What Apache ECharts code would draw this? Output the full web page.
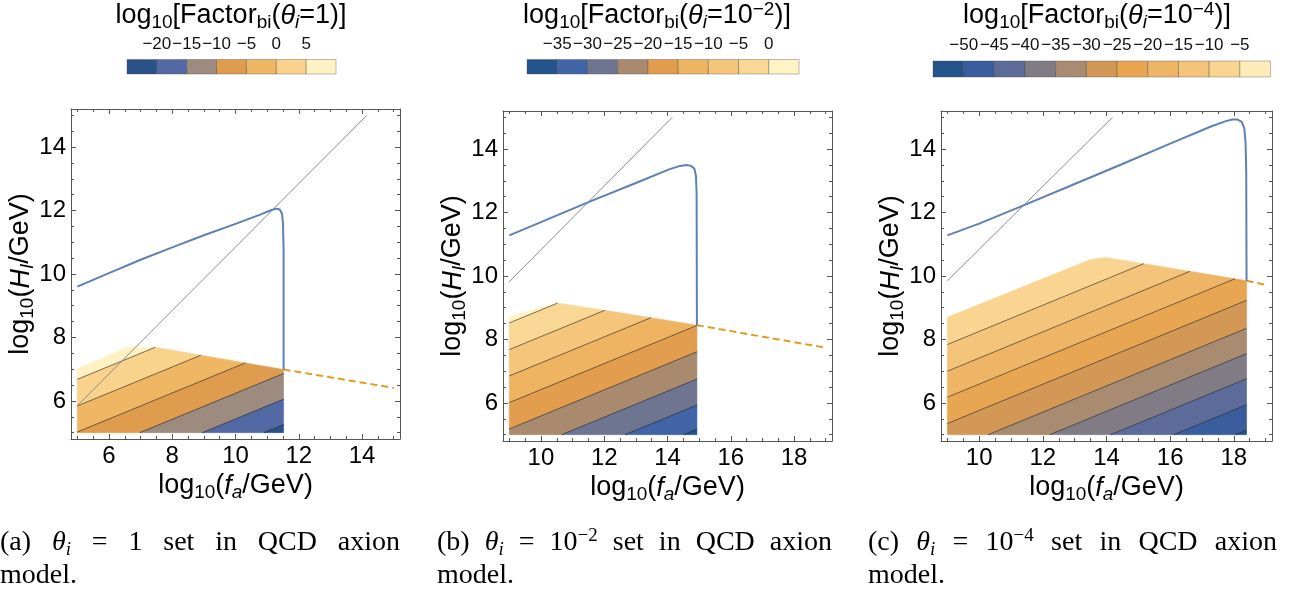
<!DOCTYPE html>
<html>
<head>
<meta charset="utf-8">
<script src="https://cdn.jsdelivr.net/npm/echarts@6/dist/echarts.min.js"></script>
<style>
  html, body { margin: 0; padding: 0; background: #fff; }
  #chart { width: 1295px; height: 596px; }
</style>
</head>
<body>
<div id="chart"></div>
<script>
// ---------- values ----------
// panel (a)  theta_i = 1
const aRegion = [[5, 5], [5, 7.02], [6.56, 7.68], [7.4, 7.7], [11.52, 6.99], [11.52, 5]];
const aLevels = [5, 0, -5, -10, -15, -20];                 // contour levels = colour bar ticks
const aLevelY = [6.68, 5.84, 5.02, 4.19, 3.38, 2.58];       // height of each contour at x = 5
const aSlope = 0.41;
const aColors = ['#2b5189', '#5269a5', '#9c8b7e', '#e09c4e', '#efb764', '#f9d28c', '#fef2c4'];
const aBlue = [[5, 9.6], [6, 10.03], [7, 10.45], [8, 10.84], [9, 11.22], [10, 11.58], [10.8, 11.88],
  [11.1, 12.0], [11.28, 12.06], [11.4, 12.03], [11.47, 11.9], [11.5, 11.6], [11.52, 10.8], [11.52, 6.99]];
const aGrey = [[5, 5.85], [14.15, 15]];
const aDash = [[11.52, 6.99], [15, 6.41]];
const aXTicks = [6, 8, 10, 12, 14];

// panel (b)  theta_i = 1e-2
const bRegion = [[9, 5], [9, 8.72], [10.5, 9.15], [12, 8.92], [14.93, 8.45], [14.93, 5]];
const bLevels = [0, -5, -10, -15, -20, -25, -30, -35];
const bLevelY = [8.52, 7.68, 6.85, 6.01, 5.18, 4.32, 3.5, 2.74];   // at x = 9
const bSlope = 0.41;
const bColors = ['#25538b', '#4064a6', '#6f7591', '#a98a6f', '#e39d4e', '#eeb462', '#f4c57a', '#f9d896', '#fef3c4'];
const bBlue = [[9, 11.28], [10, 11.7], [11.5, 12.33], [13, 12.93], [14.05, 13.36], [14.4, 13.47],
  [14.6, 13.5], [14.75, 13.47], [14.85, 13.38], [14.9, 13.15], [14.92, 12.6], [14.93, 8.45]];
const bGrey = [[9, 9.82], [14.15, 15]];
const bDash = [[14.93, 8.45], [19, 7.74]];
const bXTicks = [10, 12, 14, 16, 18];

// panel (c)  theta_i = 1e-4
const cRegion = [[9, 5], [9, 8.7], [13.5, 10.52], [13.96, 10.58], [14.5, 10.5], [18.4, 9.85], [18.4, 5]];
const cLevels = [-5, -10, -15, -20, -25, -30, -35, -40, -45, -50];
const cLevelY = [8.7, 7.84, 7.0, 6.18, 5.35, 4.47, 3.67, 2.88, 2.06, 1.26];   // at x = 9
const cSlope = 0.413;
const cColors = ['#24528a', '#3a5d9d', '#5c6b99', '#817b86', '#a88b70', '#d39855', '#e8a652',
  '#efb566', '#f4c47b', '#f9d591', '#fdecb9'];
const cBlue = [[9, 11.28], [10, 11.65], [11.45, 12.25], [13, 12.9], [14.5, 13.53], [16, 14.17],
  [17.3, 14.72], [17.75, 14.88], [17.95, 14.93], [18.12, 14.93], [18.25, 14.86], [18.33, 14.65],
  [18.37, 14.2], [18.39, 13.3], [18.4, 9.85]];
const cGrey = [[9, 9.85], [14.19, 15]];
const cDash = [[18.4, 9.85], [18.97, 9.73]];
const cXTicks = [10, 12, 14, 16, 18];

const yTicks = [6, 8, 10, 12, 14];

// ---------- helpers ----------
const SANS = 'Liberation Sans, Arial, sans-serif';
const SERIF = 'Liberation Serif, Times New Roman, serif';
const frameColor = '#555';

function minorTicks(from, to, major) {
  const out = [];
  for (let v = from; v <= to + 1e-9; v += 0.5) {
    if (major.indexOf(v) < 0) out.push(v);
  }
  return out;
}

// keep the part of a polygon above (sign 1) or below (sign -1) the line y = m x + b
function clipHalf(poly, m, b, sign) {
  const out = [];
  const f = p => (p[1] - (m * p[0] + b)) * sign;
  for (let i = 0; i < poly.length; i++) {
    const P = poly[i], Q = poly[(i + 1) % poly.length];
    const fp = f(P), fq = f(Q);
    if (fp >= 0) out.push(P);
    if ((fp >= 0) !== (fq >= 0)) {
      const t = fp / (fp - fq);
      out.push([P[0] + t * (Q[0] - P[0]), P[1] + t * (Q[1] - P[1])]);
    }
  }
  return out;
}

function lineInRegion(poly, m, b) {
  const pts = [];
  for (let i = 0; i < poly.length; i++) {
    const P = poly[i], Q = poly[(i + 1) % poly.length];
    const fp = P[1] - (m * P[0] + b), fq = Q[1] - (m * Q[0] + b);
    if (fp === fq) continue;
    if ((fp >= 0) !== (fq >= 0) || fp === 0) {
      const t = fp / (fp - fq);
      if (t >= 0 && t <= 1) pts.push([P[0] + t * (Q[0] - P[0]), P[1] + t * (Q[1] - P[1])]);
    }
  }
  if (pts.length < 2) return null;
  pts.sort((u, v) => u[0] - v[0]);
  return [pts[0], pts[pts.length - 1]];
}

const nameRich = {
  n: { fontFamily: SANS, fontSize: 27, lineHeight: 32, color: '#000' },
  s: { fontFamily: SANS, fontSize: 19, lineHeight: 21, verticalAlign: 'bottom', color: '#000' },
  i: { fontFamily: SANS, fontSize: 27, lineHeight: 32, fontStyle: 'italic', color: '#000' },
  is: { fontFamily: SANS, fontSize: 19, lineHeight: 21, verticalAlign: 'bottom', fontStyle: 'italic', color: '#000' },
  p: { fontFamily: SANS, fontSize: 19, lineHeight: 17, verticalAlign: 'top', color: '#000' }
};

const panels = [
  { region: aRegion, levels: aLevels, levelY: aLevelY, slope: aSlope, x0: 5, colors: aColors,
    blue: aBlue, grey: aGrey, dash: aDash, xTicks: aXTicks, xMin: 4.8, xMax: 15.2, xFrom: 5, xTo: 15,
    grid: { left: 71, top: 109, width: 329, height: 330 },
    bar: { left: 127, top: 59.5, width: 209, height: 14.5 },
    title: '{n|log}{s|10}{n|[Factor}{s|bi}{n|(}{i|θ}{is|i}{n|=1)]}', titleX: 231 },
  { region: bRegion, levels: bLevels, levelY: bLevelY, slope: bSlope, x0: 9, colors: bColors,
    blue: bBlue, grey: bGrey, dash: bDash, xTicks: bXTicks, xMin: 8.8, xMax: 19.2, xFrom: 9, xTo: 19,
    grid: { left: 503, top: 111, width: 329, height: 330 },
    bar: { left: 527, top: 59.5, width: 272, height: 14.5 },
    title: '{n|log}{s|10}{n|[Factor}{s|bi}{n|(}{i|θ}{is|i}{n|=10}{p|−2}{n|)]}', titleX: 657 },
  { region: cRegion, levels: cLevels, levelY: cLevelY, slope: cSlope, x0: 9, colors: cColors,
    blue: cBlue, grey: cGrey, dash: cDash, xTicks: cXTicks, xMin: 8.8, xMax: 19.2, xFrom: 9, xTo: 19,
    grid: { left: 941, top: 111, width: 331, height: 330 },
    bar: { left: 933, top: 61, width: 337.5, height: 16 },
    title: '{n|log}{s|10}{n|[Factor}{s|bi}{n|(}{i|θ}{is|i}{n|=10}{p|−4}{n|)]}', titleX: 1097 }
];

const grid = [], xAxis = [], yAxis = [], series = [], graphic = [];

function valAxis(gi, pos, min, max, ticks, len, withLine, withLabel, extra) {
  return Object.assign({
    type: 'value', gridIndex: gi, position: pos, min: min, max: max,
    nameMoveOverlap: false,
    axisLine: { show: withLine, onZero: false, lineStyle: { color: frameColor, width: 1 } },
    axisTick: { show: true, inside: true, length: len, customValues: ticks,
      lineStyle: { color: frameColor, width: 1 } },
    axisLabel: withLabel ? { show: true, customValues: ticks, margin: 5, fontFamily: SANS,
      fontSize: 24, color: '#000', formatter: v => String(v) } : { show: false },
    splitLine: { show: false }
  }, extra || {});
}

panels.forEach((p, k) => {
  const gi = grid.length;
  grid.push(Object.assign({ outerBoundsMode: 'none', containLabel: false }, p.grid));
  const xMinor = minorTicks(p.xFrom, p.xTo, p.xTicks);
  const yMinor = minorTicks(5, 15, yTicks);
  const xi = xAxis.length, yi = yAxis.length;
  xAxis.push(valAxis(gi, 'bottom', p.xMin, p.xMax, p.xTicks, 5, true, true, {
    name: '{n|log}{s|10}{n|(}{i|f}{is|a}{n|/GeV)}', nameLocation: 'middle', nameGap: 31,
    nameTextStyle: { rich: nameRich }
  }));
  xAxis.push(valAxis(gi, 'bottom', p.xMin, p.xMax, xMinor, 3, false, false));
  xAxis.push(valAxis(gi, 'top', p.xMin, p.xMax, p.xTicks, 5, true, false));
  xAxis.push(valAxis(gi, 'top', p.xMin, p.xMax, xMinor, 3, false, false));
  yAxis.push(valAxis(gi, 'left', 4.8, 15.2, yTicks, 5, true, true, {
    name: '{n|log}{s|10}{n|(}{i|H}{is|I}{n|/GeV)}', nameLocation: 'middle', nameGap: 34, nameRotate: 90,
    nameTextStyle: { rich: nameRich }
  }));
  yAxis.push(valAxis(gi, 'left', 4.8, 15.2, yMinor, 3, false, false));
  yAxis.push(valAxis(gi, 'right', 4.8, 15.2, yTicks, 5, true, false));
  yAxis.push(valAxis(gi, 'right', 4.8, 15.2, yMinor, 3, false, false));

  const n = p.levels.length;
  const lineB = j => p.levelY[j] - p.slope * p.x0;
  const bands = [];
  for (let j = 0; j <= n; j++) bands.push([j, 0]);
  series.push({
    type: 'custom', xAxisIndex: xi, yAxisIndex: yi, silent: true, z: 1, data: bands,
    renderItem: (params, api) => {
      const j = api.value(0);
      let poly = p.region;
      if (j > 0) poly = clipHalf(poly, p.slope, lineB(j - 1), -1);
      if (j < n) poly = clipHalf(poly, p.slope, lineB(j), 1);
      if (poly.length < 3) return null;
      const col = p.colors[n - j];
      return { type: 'polygon', shape: { points: poly.map(q => api.coord(q)) },
        style: { fill: col, stroke: col, lineWidth: 0.6 } };
    }
  });
  series.push({
    type: 'custom', xAxisIndex: xi, yAxisIndex: yi, silent: true, z: 2,
    data: p.levels.map((lv, j) => [j, lv]),
    renderItem: (params, api) => {
      const seg = lineInRegion(p.region, p.slope, lineB(api.value(0)));
      if (!seg) return null;
      const a = api.coord(seg[0]), b = api.coord(seg[1]);
      return { type: 'line', shape: { x1: a[0], y1: a[1], x2: b[0], y2: b[1] },
        style: { stroke: 'rgba(35,35,35,0.6)', lineWidth: 1 } };
    }
  });
  const lineBase = { type: 'line', xAxisIndex: xi, yAxisIndex: yi, showSymbol: false, silent: true,
    animation: false };
  series.push(Object.assign({}, lineBase, { data: p.grey, z: 3, lineStyle: { color: '#8c8c8c', width: 1 } }));
  series.push(Object.assign({}, lineBase, { data: p.dash, z: 4, lineStyle: { color: '#e19c24', width: 2, type: [7, 4] } }));
  series.push(Object.assign({}, lineBase, { data: p.blue, z: 5, lineStyle: { color: '#5e81b5', width: 2 } }));

  // colour bar
  const cg = grid.length;
  grid.push(Object.assign({ outerBoundsMode: 'none', containLabel: false }, p.bar));
  const bounds = [];
  for (let j = 1; j <= n; j++) bounds.push(j);
  const low2high = p.levels.slice().reverse();
  const cx = xAxis.length, cy = yAxis.length;
  xAxis.push({
    type: 'value', gridIndex: cg, position: 'top', min: 0, max: n + 1,
    axisLine: { show: false },
    axisTick: { show: true, inside: false, length: 5, customValues: bounds, lineStyle: { color: '#777' } },
    axisLabel: { show: true, customValues: bounds, margin: 7, fontFamily: SANS, fontSize: 17, color: '#111',
      formatter: v => { const t = low2high[Math.round(v) - 1]; return t < 0 ? '\u2212' + (-t) : String(t); } },
    splitLine: { show: false }
  });
  yAxis.push({ type: 'value', gridIndex: cg, min: 0, max: 1, show: false });
  const bins = [];
  for (let j = 0; j <= n; j++) bins.push([j, 0]);
  series.push({
    type: 'custom', xAxisIndex: cx, yAxisIndex: cy, silent: true, data: bins,
    renderItem: (params, api) => {
      const j = api.value(0);
      const p0 = api.coord([j, 0]), p1 = api.coord([j + 1, 1]);
      return { type: 'rect', shape: { x: p0[0], y: p1[1], width: p1[0] - p0[0], height: p0[1] - p1[1] },
        style: { fill: p.colors[j], stroke: 'rgba(70,70,70,0.45)', lineWidth: 0.8 } };
    }
  });

  graphic.push({ type: 'text', x: p.titleX, y: 16, silent: true,
    style: { text: p.title, rich: nameRich, align: 'center', verticalAlign: 'middle' } });
});

// captions: justified between the sub-figure margins, like the LaTeX original
const capSize = 28, capSub = 19;
const capRich = {
  r: { fontFamily: SERIF, fontSize: capSize, lineHeight: 32, color: '#000' },
  it: { fontFamily: SERIF, fontSize: capSize, lineHeight: 32, fontStyle: 'italic', color: '#000' },
  sb: { fontFamily: SERIF, fontSize: capSub, lineHeight: 21, verticalAlign: 'bottom', fontStyle: 'italic', color: '#000' },
  sp: { fontFamily: SERIF, fontSize: capSub, lineHeight: 17, verticalAlign: 'top', color: '#000' }
};
const capFont = {
  r: capSize + 'px "Liberation Serif"', it: 'italic ' + capSize + 'px "Liberation Serif"',
  sb: 'italic ' + capSub + 'px "Liberation Serif"', sp: capSub + 'px "Liberation Serif"'
};
const captions = [
  { from: 0, to: 400, words: [[['r', '(a)']], [['it', 'θ'], ['sb', 'i']], [['r', '=']], [['r', '1']],
    [['r', 'set']], [['r', 'in']], [['r', 'QCD']], [['r', 'axion']]] },
  { from: 437, to: 832, words: [[['r', '(b)']], [['it', 'θ'], ['sb', 'i']], [['r', '=']], [['r', '10'], ['sp', '−2']],
    [['r', 'set']], [['r', 'in']], [['r', 'QCD']], [['r', 'axion']]] },
  { from: 868, to: 1277, words: [[['r', '(c)']], [['it', 'θ'], ['sb', 'i']], [['r', '=']], [['r', '10'], ['sp', '−4']],
    [['r', 'set']], [['r', 'in']], [['r', 'QCD']], [['r', 'axion']]] }
];
const ctx = document.createElement('canvas').getContext('2d');
function wordWidth(w) {
  return w.reduce((s, t) => { ctx.font = capFont[t[0]]; return s + ctx.measureText(t[1]).width; }, 0);
}
captions.forEach(c => {
  const widths = c.words.map(wordWidth);
  const total = widths.reduce((s, v) => s + v, 0);
  const gap = (c.to - c.from - total) / (c.words.length - 1);
  let x = c.from;
  c.words.forEach((w, i) => {
    graphic.push({ type: 'text', x: x, y: 543, silent: true,
      style: { text: w.map(t => '{' + t[0] + '|' + t[1] + '}').join(''), rich: capRich,
        align: 'left', verticalAlign: 'middle' } });
    x += widths[i] + gap;
  });
  graphic.push({ type: 'text', x: c.from, y: 576, silent: true,
    style: { text: '{r|model.}', rich: capRich, align: 'left', verticalAlign: 'middle' } });
});

const chart = echarts.init(document.getElementById('chart'), null, { renderer: 'canvas' });
chart.setOption({
  animation: false,
  backgroundColor: '#fff',
  grid: grid,
  xAxis: xAxis,
  yAxis: yAxis,
  series: series,
  graphic: graphic
});
</script>
</body>
</html>
